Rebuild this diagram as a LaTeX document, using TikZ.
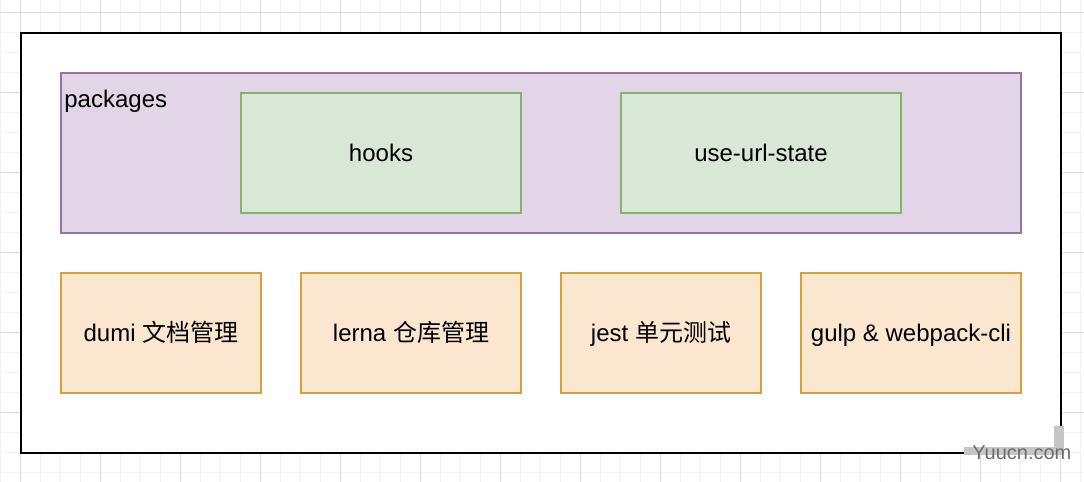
\documentclass[tikz,border=0pt]{standalone}
\usepackage{fontspec}
\setmainfont{Liberation Sans}
\newfontfamily\cjk{Noto Sans CJK SC}
\usetikzlibrary{positioning}

\definecolor{gridminor}{HTML}{F2F2F2}
\definecolor{gridmajor}{HTML}{DCDCDC}
\definecolor{pkgfill}{HTML}{E1D5E7}
\definecolor{pkgline}{HTML}{9673A6}
\definecolor{hookfill}{HTML}{D9E7D6}
\definecolor{hookline}{HTML}{86B36C}
\definecolor{toolfill}{HTML}{FBE6D0}
\definecolor{toolline}{HTML}{D6A03A}

\tikzstyle{box} = [rectangle, outer sep=0pt, inner sep=0pt, text centered, text height=10pt, text depth=2pt, line width=1pt]
\tikzstyle{pkg} = [box, fill=pkgfill, draw=pkgline, minimum width=480pt, minimum height=80pt]
\tikzstyle{hook} = [box, fill=hookfill, draw=hookline, minimum width=140pt, minimum height=60pt]
\tikzstyle{tool} = [box, fill=toolfill, draw=toolline, minimum height=60pt]

\begin{document}
\begin{tikzpicture}[x=0.5pt, y=-0.5pt, font=\fontsize{12pt}{14pt}\selectfont]
  \useasboundingbox (0,0) rectangle (1084,482);

  % background grid
  \foreach \x in {0,20,...,1080} \draw [gridminor, line width=0.5pt] (\x,0) -- (\x,482);
  \foreach \y in {12,32,...,472} \draw [gridminor, line width=0.5pt] (0,\y) -- (1084,\y);
  \foreach \x in {20,100,...,1060} \draw [gridmajor, line width=0.5pt] (\x,0) -- (\x,482);
  \foreach \y in {12,92,...,472} \draw [gridmajor, line width=0.5pt] (0,\y) -- (1084,\y);

  \node (Frame) [rectangle, draw=black, fill=white, line width=1.3pt, minimum width=520pt, minimum height=210pt] at (541,243) {};

  \node (Packages) [pkg] at (541,153) {};
  \node (Packages Label) [anchor=base west, inner sep=0pt] at (64,107) {packages};
  \node (Hooks) [hook] at (381,153) {hooks};
  \node (URL State) [hook, right=50pt of Hooks] {use-url-state};

  \node (Dumi) [tool, minimum width=100pt] at (161,333) {dumi {\cjk 文档管理}};
  \node (Lerna) [tool, minimum width=110pt, right=20pt of Dumi] {lerna {\cjk 仓库管理}};
  \node (Jest) [tool, minimum width=100pt, right=20pt of Lerna] {jest {\cjk 单元测试}};
  \node (Gulp) [tool, minimum width=110pt, right=20pt of Jest] {gulp \& webpack-cli};

  % watermark
  \fill [gray!45] (964,447) rectangle (1064,455);
  \fill [gray!45] (1054,426) rectangle (1064,455);
  \node (Watermark) [anchor=base west, inner sep=0pt, text=gray!85!black, font=\fontsize{10pt}{12pt}\selectfont] at (972,459) {Yuucn.com};
\end{tikzpicture}
\end{document}
